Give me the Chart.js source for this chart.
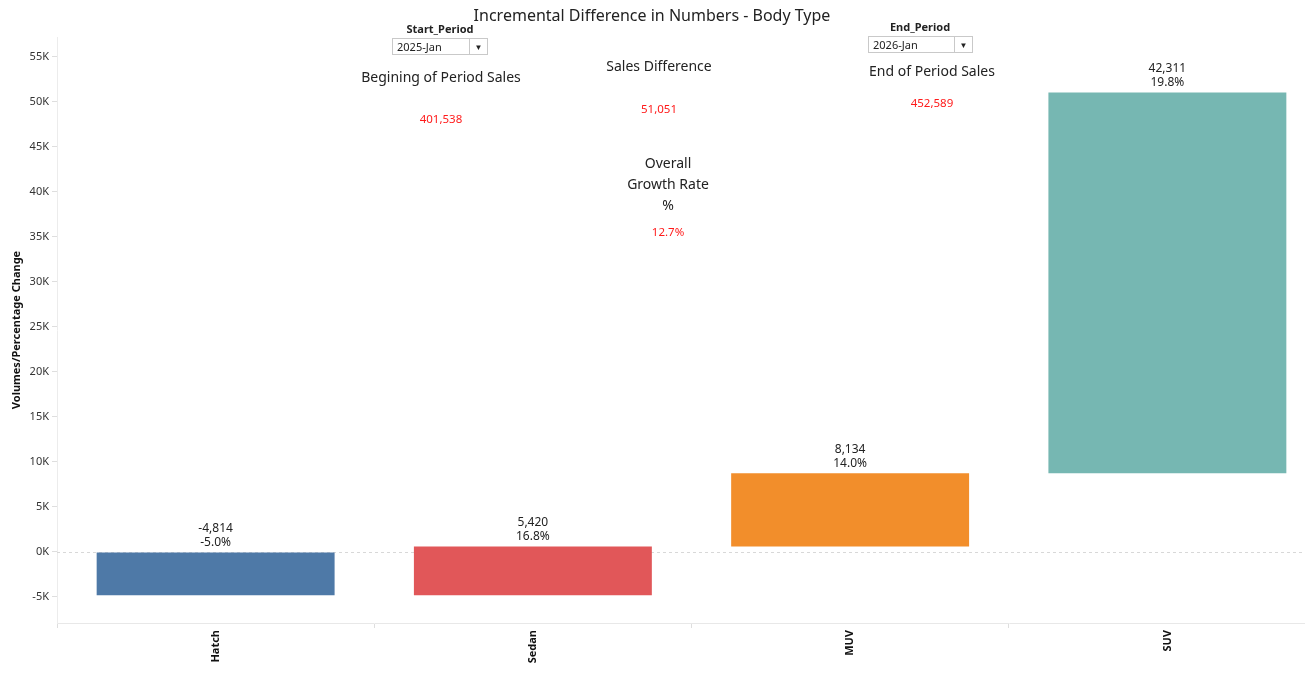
<!DOCTYPE html>
<html>
<head>
<meta charset="utf-8">
<script src="https://cdn.jsdelivr.net/npm/chart.js@4.4.1/dist/chart.umd.min.js"></script>
<style>
  html, body { margin: 0; padding: 0; background: #fff; overflow: hidden; width: 1305px; height: 682px; }
  #wrap { position: relative; width: 1326px; height: 682px; }
  .lbl { position: absolute; transform: translate(-50%, -50%); white-space: nowrap; font-family: "Noto Sans", sans-serif; color: #222; line-height: 1.1; text-align: center; }
  .red { color: #ff1a1a; font-size: 11.5px; }
  .head { font-size: 14px; }
  .filt { font-size: 11px; font-weight: bold; }
  .dd { position: absolute; border: 1px solid #c9c9c9; background: #fff; font: 11px "Noto Sans", sans-serif; color: #222; box-sizing: border-box; height: 17px; }
  .dd span { position: absolute; left: 4px; top: 0; line-height: 15px; }
  .dd i { position: absolute; right: 0; top: 0; width: 17px; height: 15px; border-left: 1px solid #c9c9c9; font-style: normal; font-size: 8px; line-height: 15px; text-align: center; }
</style>
</head>
<body>
<div id="wrap">
  <canvas id="chart"></canvas>

  <div class="lbl" style="left:652px;top:16px;font-size:16px;">Incremental Difference in Numbers - Body Type</div>

  <div class="lbl filt" style="left:440px;top:29px;">Start_Period</div>
  <div class="dd" style="left:392px;top:38px;width:96px;"><span>2025-Jan</span><i>&#9660;</i></div>
  <div class="lbl head" style="left:441px;top:77px;">Begining of Period Sales</div>
  <div class="lbl red" style="left:441px;top:119px;">401,538</div>

  <div class="lbl head" style="left:659px;top:66px;">Sales Difference</div>
  <div class="lbl red" style="left:659px;top:109px;">51,051</div>

  <div class="lbl head" style="left:668px;top:183px;line-height:21px;">Overall<br>Growth Rate<br>%</div>
  <div class="lbl red" style="left:668px;top:232px;">12.7%</div>

  <div class="lbl filt" style="left:920px;top:27px;">End_Period</div>
  <div class="dd" style="left:868px;top:36px;width:105px;"><span>2026-Jan</span><i>&#9660;</i></div>
  <div class="lbl head" style="left:932px;top:71px;">End of Period Sales</div>
  <div class="lbl red" style="left:932px;top:103px;">452,589</div>
</div>

<script>
// ── Data ───────────────────────────────────────────────────────────────────

const categories = ['Hatch', 'Sedan', 'MUV', 'SUV'];
const changes    = [-4814, 5420, 8134, 42311];
const pctChange  = [-5.0, 16.8, 14.0, 19.8];
const barColors  = ['#4e79a7', '#e15759', '#f28e2b', '#76b7b2'];
const yTicks     = [-5000, 0, 5000, 10000, 15000, 20000, 25000, 30000, 35000, 40000, 45000, 50000, 55000];

// waterfall: each bar starts where the previous one ended
let running = 0;
const ranges = changes.map(c => {
  const r = [running, running + c];
  running += c;
  return r;
});

const FONT = '"Noto Sans", sans-serif';

// ── Plugins ────────────────────────────────────────────────────────────────

// dashed zero line behind the bars
const zeroLine = {
  id: 'zeroLine',
  beforeDatasetsDraw(chart) {
    const { ctx, chartArea, scales } = chart;
    const y = Math.round(scales.y.getPixelForValue(0)) + 0.5;
    ctx.save();
    ctx.strokeStyle = '#d8d8d8';
    ctx.lineWidth = 1;
    ctx.setLineDash([3, 3]);
    ctx.beginPath();
    ctx.moveTo(chartArea.left, y);
    ctx.lineTo(chartArea.right, y);
    ctx.stroke();
    ctx.restore();
  },
};

const barLabels = {
  id: 'barLabels',
  afterDatasetsDraw(chart) {
    const { ctx } = chart;
    const meta = chart.getDatasetMeta(0);
    ctx.save();
    ctx.font = '12px ' + FONT;
    ctx.fillStyle = '#222';
    ctx.textAlign = 'center';
    ctx.textBaseline = 'middle';
    meta.data.forEach((bar, i) => {
      const top = Math.min(bar.y, bar.base);
      ctx.fillText(changes[i].toLocaleString('en-US'), bar.x, top - 24);
      ctx.fillText(pctChange[i].toFixed(1) + '%', bar.x, top - 10);
    });
    ctx.restore();
  },
};

// ── Chart ──────────────────────────────────────────────────────────────────

new Chart(document.getElementById('chart'), {
  type: 'bar',
  data: {
    labels: categories,
    datasets: [{
      data: ranges,
      backgroundColor: barColors,
      borderWidth: 0,
      barPercentage: 0.75,
      categoryPercentage: 1,
    }],
  },
  plugins: [zeroLine, barLabels],
  options: {
    responsive: true,
    maintainAspectRatio: false,
    animation: false,
    layout: { padding: { top: 37, right: 0, bottom: 0, left: 0 } },
    plugins: { legend: { display: false }, tooltip: { enabled: false } },
    scales: {
      x: {
        grid: { color: 'rgba(0,0,0,0)', tickColor: '#dedede', tickLength: 5, offset: true },
        border: { color: '#e8e8e8' },
        ticks: {
          minRotation: 90, maxRotation: 90, padding: 2,
          color: '#111', font: { family: FONT, size: 11, weight: 'bold' },
        },
        afterFit(scale) { scale.height = 59; },
      },
      y: {
        min: -7890,
        max: 57220,
        afterBuildTicks(scale) { scale.ticks = yTicks.map(v => ({ value: v })); },
        grid: { color: 'rgba(0,0,0,0)', tickColor: '#dedede', tickLength: 5 },
        border: { color: '#ececec' },
        ticks: {
          padding: 3,
          color: '#333',
          font: { family: FONT, size: 11 },
          callback: (v) => (v / 1000) + 'K',
        },
        title: {
          display: true,
          text: 'Volumes/Percentage Change',
          color: '#111',
          font: { family: FONT, size: 11, weight: 'bold' },
          padding: { top: 10, bottom: 0 },
        },
        afterFit(scale) { scale.width = 57; },
      },
    },
  },
});
</script>
</body>
</html>
